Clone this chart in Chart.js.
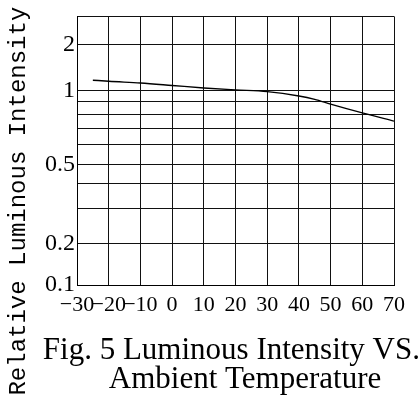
<!DOCTYPE html>
<html>
<head>
<meta charset="utf-8">
<title>Luminous Intensity vs Ambient Temperature</title>
<script src="https://cdn.jsdelivr.net/npm/chart.js@4.4.1/dist/chart.umd.min.js"></script>
<style>
  html, body { margin: 0; padding: 0; background: #fff; }
  #wrap { width: 420px; height: 407px; }
</style>
</head>
<body>
<div id="wrap"><canvas id="chart"></canvas></div>
<script>
// Curve
const temperatures = [-25, -20, -10, 0, 10, 20, 30, 40, 45, 50, 60, 70];
const relIntensity = [1.17, 1.15, 1.12, 1.08, 1.04, 1.01, 0.99, 0.95, 0.92, 0.88, 0.81, 0.75];

// Ticks / grid
const xTicks = [-30, -20, -10, 0, 10, 20, 30, 40, 50, 60, 70];
const yGridValues = [0.1, 0.2, 0.3, 0.4, 0.5, 0.6, 0.7, 0.8, 0.9, 1, 2, 3];
const yLabelValues = [0.1, 0.2, 0.5, 1, 2];

// The printed y axis is log-like but each decade segment has its own length,
// so use a small scale that is logarithmic inside each segment.
class SegmentLogScale extends Chart.Scale {
  determineDataLimits() {
    const stops = this.options.stops;
    this.min = stops[0];
    this.max = stops[stops.length - 1];
  }

  buildTicks() {
    return this.options.gridValues.map(value => ({ value }));
  }

  getLabelForValue(value) {
    return String(value);
  }

  _toDecimal(value) {
    const stops = this.options.stops;
    const spans = this.options.spans;
    const total = spans.reduce((a, b) => a + b, 0);
    let acc = 0;
    for (let i = 0; i < spans.length; i++) {
      const lo = stops[i], hi = stops[i + 1];
      if (value <= hi || i === spans.length - 1) {
        const f = (Math.log(value) - Math.log(lo)) / (Math.log(hi) - Math.log(lo));
        return (acc + spans[i] * f) / total;
      }
      acc += spans[i];
    }
    return 0;
  }

  getPixelForValue(value) {
    if (value === null || isNaN(value) || value <= 0) return NaN;
    return this.getPixelForDecimal(this._toDecimal(value));
  }

  getValueForPixel(pixel) {
    const stops = this.options.stops;
    const spans = this.options.spans;
    const total = spans.reduce((a, b) => a + b, 0);
    const d = this.getDecimalForPixel(pixel) * total;
    let acc = 0;
    for (let i = 0; i < spans.length; i++) {
      if (d <= acc + spans[i] || i === spans.length - 1) {
        const lo = Math.log(stops[i]), hi = Math.log(stops[i + 1]);
        return Math.exp(lo + (d - acc) / spans[i] * (hi - lo));
      }
      acc += spans[i];
    }
  }
}
SegmentLogScale.id = 'segmentLog';
SegmentLogScale.defaults = {};
Chart.register(SegmentLogScale);

const serif = '"Liberation Serif", "DejaVu Serif", serif';

new Chart(document.getElementById('chart'), {
  type: 'line',
  data: {
    datasets: [{
      data: temperatures.map((t, i) => ({ x: t, y: relIntensity[i] })),
      borderColor: '#000',
      borderWidth: 1.4,
      pointRadius: 0,
      cubicInterpolationMode: 'monotone',
      fill: false
    }]
  },
  options: {
    responsive: true,
    maintainAspectRatio: false,
    animation: false,
    layout: { padding: { top: 16, right: 0, bottom: 0, left: 0 } },
    plugins: {
      legend: { display: false },
      tooltip: { enabled: false },
      title: {
        display: true,
        position: 'bottom',
        align: 'end',
        text: ['Fig. 5 Luminous Intensity VS.', 'Ambient Temperature     '],
        color: '#000',
        font: { family: serif, size: 31, weight: 'normal', lineHeight: '29px' },
        padding: { top: 17, bottom: 13 }
      }
    },
    scales: {
      x: {
        type: 'linear',
        min: -30,
        max: 70,
        afterBuildTicks: axis => { axis.ticks = xTicks.map(value => ({ value })); },
        afterFit: axis => { axis.height = 34; },
        grid: { color: '#111', lineWidth: 1, drawTicks: false },
        border: { color: '#000', width: 1 },
        ticks: {
          autoSkip: false,
          maxRotation: 0,
          minRotation: 0,
          padding: 7,
          color: '#000',
          font: { family: serif, size: 22 },
          callback: value => String(value).replace('-', '\u2212')
        }
      },
      y: {
        type: 'segmentLog',
        position: 'left',
        stops: [0.1, 0.2, 0.5, 1, 2, 3],
        spans: [41.7, 79.3, 74, 45.7, 28.6],
        gridValues: yGridValues,
        afterFit: axis => { axis.width = 77; },
        grid: { color: '#111', lineWidth: 1, drawTicks: false },
        border: { color: '#000', width: 1 },
        ticks: {
          autoSkip: false,
          padding: 2,
          color: '#000',
          font: { family: serif, size: 24 },
          callback: value => yLabelValues.includes(value) ? String(value) : ''
        },
        title: {
          display: true,
          text: 'Relative Luminous Intensity       ',
          color: '#000',
          font: { family: '"Liberation Mono", "DejaVu Sans Mono", monospace', size: 24 },
          padding: { top: 4, bottom: 0 }
        }
      },
      pad: {
        type: 'linear',
        position: 'right',
        display: true,
        afterFit: axis => { axis.width = 26; },
        grid: { display: false },
        border: { display: false },
        ticks: { display: false }
      }
    }
  }
});
</script>
</body>
</html>
